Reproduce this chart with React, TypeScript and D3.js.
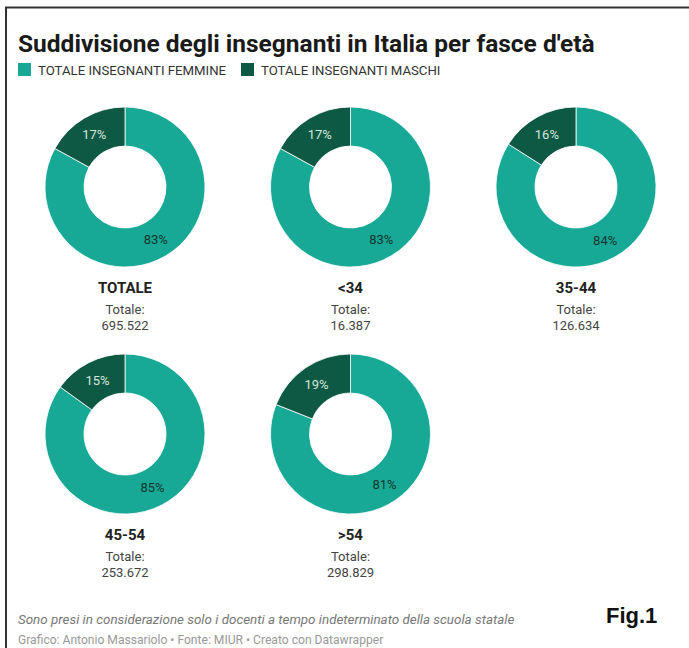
import { useEffect, useRef } from "react";
import * as d3 from "d3";

const categories = ["TOTALE", "<34", "35-44", "45-54", ">54"];
const femalePct = [83, 83, 84, 85, 81];
const malePct = [17, 17, 16, 15, 19];
const totals = ["695.522", "16.387", "126.634", "253.672", "298.829"];
const seriesNames = ["TOTALE INSEGNANTI FEMMINE", "TOTALE INSEGNANTI MASCHI"];

export default function App() {
  const svgRef = useRef<SVGSVGElement>(null);

  useEffect(() => {
    if (!svgRef.current) return;
    const svg = d3.select(svgRef.current);
    svg.selectAll("*").remove();

    const width = 689;
    const height = 648;
    const font = "Roboto, 'Noto Sans', sans-serif";
    const femaleColor = "#17a995";
    const maleColor = "#0e5943";

    svg.append("rect").attr("width", width).attr("height", height).attr("fill", "#fff");

    // frame
    svg.append("line").attr("x1", 5).attr("x2", width).attr("y1", 7.5).attr("y2", 7.5)
      .attr("stroke", "#333").attr("stroke-width", 2);
    svg.append("line").attr("x1", 6).attr("x2", 6).attr("y1", 7).attr("y2", height)
      .attr("stroke", "#333").attr("stroke-width", 2);

    // title
    svg.append("text")
      .attr("x", 18).attr("y", 52)
      .attr("font-family", font).attr("font-weight", 700).attr("font-size", 24.5)
      .attr("fill", "#1a1a1a")
      .text("Suddivisione degli insegnanti in Italia per fasce d'età");

    // legend
    const legendX = [18, 241];
    const color = d3.scaleOrdinal<string>().domain(seriesNames).range([femaleColor, maleColor]);
    seriesNames.forEach((name, i) => {
      const lg = svg.append("g").attr("transform", `translate(${legendX[i]},63)`);
      lg.append("rect").attr("width", 13).attr("height", 13).attr("fill", color(name));
      lg.append("text").attr("x", 20).attr("y", 11.5)
        .attr("font-family", font).attr("font-size", 13.2).attr("fill", "#333")
        .text(name);
    });

    // donuts
    const col = d3.scalePoint<number>().domain([0, 1, 2]).range([125, 576]);
    const row = d3.scalePoint<number>().domain([0, 1]).range([187, 434]);
    const outerR = 80;
    const innerR = 41;
    const pie = d3.pie<number>().sort(null).value((d) => d);
    const arc = d3.arc<d3.PieArcDatum<number>>().innerRadius(innerR).outerRadius(outerR);

    categories.forEach((cat, i) => {
      const cx = col(i % 3)!;
      const cy = row(Math.floor(i / 3))!;
      const g = svg.append("g").attr("transform", `translate(${cx},${cy})`);
      const arcs = pie([femalePct[i], malePct[i]]);
      g.selectAll("path").data(arcs).join("path")
        .attr("d", arc)
        .attr("fill", (_, j) => (j === 0 ? femaleColor : maleColor))
        .attr("stroke", "#fff").attr("stroke-width", 0.8);
      g.selectAll("text.pct").data(arcs).join("text")
        .attr("class", "pct")
        .attr("transform", (d) => `translate(${arc.centroid(d)})`)
        .attr("text-anchor", "middle").attr("dy", "0.35em")
        .attr("font-family", font).attr("font-size", 13)
        .attr("fill", (_, j) => (j === 0 ? "#16352e" : "#d4e6df"))
        .text((d) => `${d.data}%`);

      g.append("text").attr("y", 106).attr("text-anchor", "middle")
        .attr("font-family", font).attr("font-weight", 700).attr("font-size", 15)
        .attr("fill", "#222").text(cat);
      g.append("text").attr("y", 126.5).attr("text-anchor", "middle")
        .attr("font-family", font).attr("font-size", 13)
        .attr("fill", "#444").text("Totale:");
      g.append("text").attr("y", 143).attr("text-anchor", "middle")
        .attr("font-family", font).attr("font-size", 13)
        .attr("fill", "#444").text(totals[i]);
    });

    // footer
    svg.append("text").attr("x", 18).attr("y", 624)
      .attr("font-family", font).attr("font-style", "italic").attr("font-size", 13.4)
      .attr("fill", "#777")
      .text("Sono presi in considerazione solo i docenti a tempo indeterminato della scuola statale");
    svg.append("text").attr("x", 18).attr("y", 644)
      .attr("font-family", font).attr("font-size", 12.1)
      .attr("fill", "#999")
      .text("Grafico: Antonio Massariolo • Fonte: MIUR • Creato con Datawrapper");
    svg.append("text").attr("x", 606).attr("y", 623)
      .attr("font-family", "'Liberation Sans Narrow', 'Liberation Sans', Arial, sans-serif")
      .attr("font-weight", 700).attr("font-size", 22)
      .attr("fill", "#111").text("Fig.1");
  }, []);

  return (
    <svg
      ref={svgRef}
      width={689}
      height={648}
      viewBox="0 0 689 648"
      style={{ position: "absolute", top: 0, left: 0, display: "block" }}
    />
  );
}
